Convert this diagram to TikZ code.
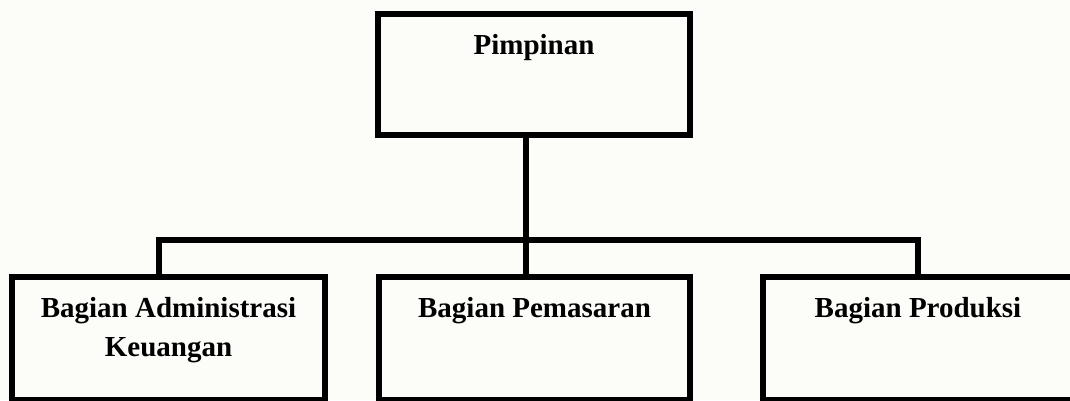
\documentclass[tikz,border=0pt]{standalone}
\usepackage{fontspec}
\setmainfont{Liberation Serif}
\definecolor{bgcol}{RGB}{252,252,248}
\begin{document}
\begin{tikzpicture}[x=1pt,y=-1pt,
  orgbox/.style={draw=black, line width=6pt, rectangle, inner sep=0pt, outer sep=0pt},
  orgtext/.style={anchor=base, inner sep=0pt, font=\fontsize{29}{39}\selectfont\bfseries, align=center},
  link/.style={draw=black, line width=6pt, line join=miter}]
\path[use as bounding box, fill=bgcol] (0,0) rectangle (1070,400);
\clip (0,0) rectangle (1070,400);
% boxes
\node[orgbox, minimum width=312pt, minimum height=121pt] (p) at (534,74.5) {};
\node[orgbox, minimum width=313pt, minimum height=123pt] (c1) at (168.5,338.5) {};
\node[orgbox, minimum width=311pt, minimum height=123pt] (c2) at (534.5,338.5) {};
\node[orgbox, minimum width=311pt, minimum height=123pt] (c3) at (918.5,338.5) {};
% texts
\node[orgtext] (tp) at (534,54) {Pimpinan};
\node[orgtext] (t1a) at (168.5,317) {Bagian Administrasi};
\node[orgtext] (t1b) at (168.5,356) {Keuangan};
\node[orgtext] (t2) at (534.5,317) {Bagian Pemasaran};
\node[orgtext] (t3) at (918,317) {Bagian Produksi};
% junctions
\coordinate (d1) at (159,240);
\coordinate (j) at (526,240);
\coordinate (d3) at (918,240);
% connectors
\draw[link] (j |- p.south) -- (j |- c2.north);
\draw[link] (d1 |- c1.north) -- (d1) -- (d3) -- (d3 |- c3.north);
\end{tikzpicture}
\end{document}
